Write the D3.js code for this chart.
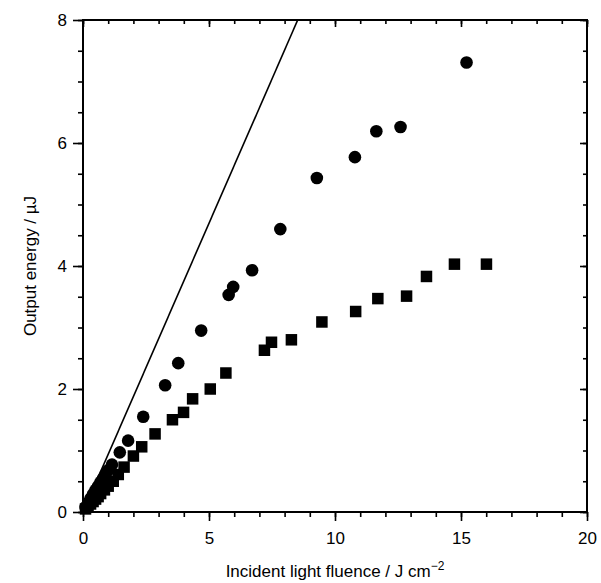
<!DOCTYPE html>
<html>
<head>
<meta charset="utf-8">
<script src="https://cdn.jsdelivr.net/npm/d3@7"></script>
<style>
  body { margin: 0; background: #fff; }
  text { font-family: "Liberation Sans", Arial, Helvetica, sans-serif; fill: #000; }
</style>
</head>
<body>
<script>
// circles series
const circleX = [0.1, 0.2, 0.3, 0.4, 0.5, 0.6, 0.7, 0.8, 0.9, 1.0, 1.15, 1.46, 1.79, 2.39, 3.26, 3.78, 4.69, 5.78, 5.96, 6.71, 7.83, 9.28, 10.79, 11.64, 12.6, 15.22];
const circleY = [0.08, 0.15, 0.22, 0.29, 0.36, 0.42, 0.49, 0.55, 0.62, 0.68, 0.77, 0.97, 1.16, 1.55, 2.06, 2.42, 2.95, 3.53, 3.66, 3.93, 4.60, 5.43, 5.77, 6.19, 6.26, 7.31];

// squares series
const squareX = [0.1, 0.2, 0.3, 0.4, 0.5, 0.6, 0.7, 0.85, 1.0, 1.2, 1.4, 1.63, 2.0, 2.33, 2.86, 3.55, 3.99, 4.35, 5.05, 5.67, 7.2, 7.48, 8.27, 9.48, 10.82, 11.7, 12.84, 13.63, 14.74, 16.01];
const squareY = [0.05, 0.09, 0.13, 0.17, 0.21, 0.25, 0.3, 0.36, 0.42, 0.5, 0.61, 0.73, 0.91, 1.06, 1.27, 1.50, 1.62, 1.84, 2.0, 2.26, 2.63, 2.76, 2.80, 3.09, 3.26, 3.47, 3.51, 3.83, 4.03, 4.03];

// straight reference line
const lineX = [0, 8.52];
const lineY = [0, 8];

// ticks
const xMajor = [0, 5, 10, 15, 20];
const xMinor = d3.range(0, 21, 1);
const yMajor = [0, 2, 4, 6, 8];
const yMinor = d3.range(0, 8.01, 0.5);

const width = 601, height = 583;
const margin = { top: 20, right: 14, bottom: 71, left: 83 };
const w = width - margin.left - margin.right;
const h = height - margin.top - margin.bottom;

const svg = d3.select("body").append("svg")
  .attr("width", width)
  .attr("height", height);

const g = svg.append("g")
  .attr("transform", `translate(${margin.left},${margin.top})`);

const x = d3.scaleLinear().domain([0, 20]).range([0, w]);
const y = d3.scaleLinear().domain([0, 8]).range([h, 0]);

// axes: bottom/left ticks outward, top/right ticks inward
function styleAxis(sel) {
  sel.select(".domain").remove();
  sel.selectAll("line").attr("stroke", "#000").attr("stroke-width", 1.6);
  sel.selectAll("text").style("font-size", "17px");
}

g.append("g").attr("transform", `translate(0,${h})`)
  .call(d3.axisBottom(x).tickValues(xMinor).tickSize(5).tickFormat(""))
  .call(styleAxis);
g.append("g").attr("transform", `translate(0,${h})`)
  .call(d3.axisBottom(x).tickValues(xMajor).tickSize(9).tickPadding(11).tickFormat(d3.format("d")))
  .call(styleAxis);

g.append("g")
  .call(d3.axisTop(x).tickValues(xMinor).tickSize(-4).tickFormat(""))
  .call(styleAxis);
g.append("g")
  .call(d3.axisTop(x).tickValues(xMajor).tickSize(-7).tickFormat(""))
  .call(styleAxis);

g.append("g")
  .call(d3.axisLeft(y).tickValues(yMinor).tickSize(5).tickFormat(""))
  .call(styleAxis);
g.append("g")
  .call(d3.axisLeft(y).tickValues(yMajor).tickSize(10).tickPadding(6).tickFormat(d3.format("d")))
  .call(styleAxis);

g.append("g").attr("transform", `translate(${w},0)`)
  .call(d3.axisRight(y).tickValues(yMinor).tickSize(-4).tickFormat(""))
  .call(styleAxis);
g.append("g").attr("transform", `translate(${w},0)`)
  .call(d3.axisRight(y).tickValues(yMajor).tickSize(-7).tickFormat(""))
  .call(styleAxis);

// frame
g.append("rect")
  .attr("width", w).attr("height", h)
  .attr("fill", "none").attr("stroke", "#000").attr("stroke-width", 2);

// reference line
g.append("clipPath").attr("id", "plot")
  .append("rect").attr("width", w).attr("height", h);

g.append("path")
  .datum(lineX.map((v, i) => [v, lineY[i]]))
  .attr("clip-path", "url(#plot)")
  .attr("fill", "none")
  .attr("stroke", "#000")
  .attr("stroke-width", 1.6)
  .attr("d", d3.line().x(d => x(d[0])).y(d => y(d[1])));

// squares
const sq = 11.5;
g.selectAll(".sq")
  .data(squareX.map((v, i) => [v, squareY[i]]))
  .enter().append("rect")
  .attr("class", "sq")
  .attr("x", d => x(d[0]) - sq / 2)
  .attr("y", d => y(d[1]) - sq / 2)
  .attr("width", sq).attr("height", sq)
  .attr("fill", "#000");

// circles
g.selectAll(".dot")
  .data(circleX.map((v, i) => [v, circleY[i]]))
  .enter().append("circle")
  .attr("class", "dot")
  .attr("cx", d => x(d[0]))
  .attr("cy", d => y(d[1]))
  .attr("r", 6.3)
  .attr("fill", "#000");

// axis titles
const xt = svg.append("text")
  .attr("x", margin.left + w / 2)
  .attr("y", 577)
  .attr("text-anchor", "middle")
  .style("font-size", "17px");
xt.append("tspan").text("Incident light fluence / J cm");
xt.append("tspan").attr("dy", -7).style("font-size", "12px").text("\u22122");

svg.append("text")
  .attr("transform", `translate(36,${margin.top + h / 2}) rotate(-90)`)
  .attr("text-anchor", "middle")
  .style("font-size", "17px")
  .text("Output energy / \u00b5J");
</script>
</body>
</html>
